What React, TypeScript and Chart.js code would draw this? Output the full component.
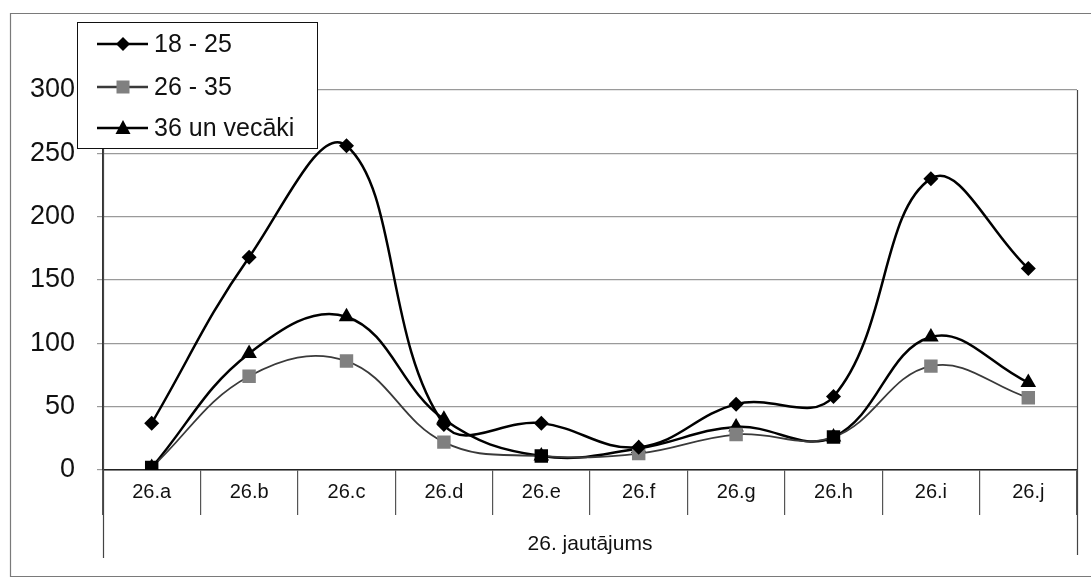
import React, { useEffect, useRef } from "react";
import { Chart, registerables } from "chart.js";

Chart.register(...registerables);

// Categories of question 26 and answer counts per age group
const categories = ["26.a", "26.b", "26.c", "26.d", "26.e", "26.f", "26.g", "26.h", "26.i", "26.j"];
const seriesNames = ["18 - 25", "26 - 35", "36 un vecāki"];
const age18to25 = [37, 168, 256, 36, 37, 18, 52, 58, 230, 159];
const age26to35 = [2, 74, 86, 22, 11, 13, 28, 26, 82, 57];
const age36plus = [2, 92, 121, 40, 11, 17, 34, 26, 105, 69];
const yTicks = [0, 50, 100, 150, 200, 250, 300];
const axisTitle = "26. jautājums";

const FONT = "'Liberation Sans', Arial, sans-serif";

// Squares at these indices are drawn black where the markers coincide
const darkSquareIdx = [0, 4, 7];

const framePlugin = {
  id: "frameAndLegend",
  afterDraw(chart: any) {
    const ctx = chart.ctx;
    const area = chart.chartArea;
    ctx.save();
    // outer frame
    ctx.strokeStyle = "#7a7a7a";
    ctx.lineWidth = 1.2;
    ctx.beginPath();
    ctx.moveTo(1091, 13.5);
    ctx.lineTo(10.5, 13.5);
    ctx.lineTo(10.5, 576.5);
    ctx.lineTo(1091, 576.5);
    ctx.stroke();

    // left and right lines of the category table
    ctx.strokeStyle = "#444";
    ctx.lineWidth = 1.2;
    ctx.beginPath();
    ctx.moveTo(Math.round(area.left) + 0.5, area.top);
    ctx.lineTo(Math.round(area.left) + 0.5, 558);
    ctx.moveTo(Math.round(area.right) + 0.5, area.top);
    ctx.lineTo(Math.round(area.right) + 0.5, 555);
    ctx.stroke();

    // legend box
    const bx = 77.5, by = 22.5, bw = 240, bh = 126;
    ctx.fillStyle = "#fff";
    ctx.fillRect(bx, by, bw, bh);
    ctx.strokeStyle = "#111";
    ctx.lineWidth = 1;
    ctx.strokeRect(bx, by, bw, bh);

    const rows = [44, 87, 128];
    chart.data.datasets.forEach((ds: any, i: number) => {
      const y = rows[i];
      ctx.strokeStyle = ds.borderColor;
      ctx.lineWidth = 2.5;
      ctx.beginPath();
      ctx.moveTo(97, y);
      ctx.lineTo(148, y);
      ctx.stroke();
      ctx.fillStyle = i === 1 ? "#808080" : "#000";
      ctx.beginPath();
      if (i === 0) {
        ctx.moveTo(123, y - 7);
        ctx.lineTo(130, y);
        ctx.lineTo(123, y + 7);
        ctx.lineTo(116, y);
      } else if (i === 1) {
        ctx.rect(116.5, y - 6.5, 13, 13);
      } else {
        ctx.moveTo(123, y - 8);
        ctx.lineTo(130.5, y + 6);
        ctx.lineTo(115.5, y + 6);
      }
      ctx.closePath();
      ctx.fill();
      ctx.fillStyle = "#111";
      ctx.font = `25px ${FONT}`;
      ctx.textBaseline = "middle";
      ctx.textAlign = "left";
      ctx.fillText(ds.label, 154, y + 1);
    });
    ctx.restore();
  },
};

export default function App() {
  const ref = useRef<HTMLCanvasElement>(null);

  useEffect(() => {
    document.body.style.margin = "0";
    const canvas = ref.current!;
    const chart = new Chart(canvas, {
      type: "line",
      data: {
        labels: categories,
        datasets: [
          {
            label: seriesNames[0],
            data: age18to25,
            borderColor: "#000",
            borderWidth: 2.5,
            backgroundColor: "#000",
            pointStyle: "rectRot",
            pointRadius: 7.5,
            pointBorderWidth: 0,
            tension: 0.4,
          },
          {
            label: seriesNames[1],
            data: age26to35,
            borderColor: "#3a3a3a",
            borderWidth: 1.8,
            pointBackgroundColor: age26to35.map((_, i) => (darkSquareIdx.includes(i) ? "#000" : "#808080")),
            pointStyle: "rect",
            pointRadius: 9.5,
            pointBorderWidth: 0,
            tension: 0.4,
          },
          {
            label: seriesNames[2],
            data: age36plus,
            borderColor: "#000",
            borderWidth: 2.5,
            backgroundColor: "#000",
            pointStyle: "triangle",
            pointRadius: 9,
            pointBorderWidth: 0,
            tension: 0.4,
          },
        ],
      },
      options: {
        animation: false,
        responsive: false,
        layout: { padding: { top: 90, right: 14, left: 0, bottom: 0 } },
        plugins: { legend: { display: false }, tooltip: { enabled: false } },
        scales: {
          x: {
            offset: true,
            grid: {
              offset: true,
              drawOnChartArea: false,
              drawTicks: true,
              tickLength: 45,
              color: "#555",
              lineWidth: 1.2,
            },
            border: { display: true, color: "#222", width: 1.5 },
            ticks: { padding: -35, color: "#111", font: { family: FONT, size: 20 } },
            title: {
              display: true,
              text: axisTitle,
              color: "#111",
              font: { family: FONT, size: 21 },
              padding: { top: 0, bottom: 21 },
            },
            afterFit(scale: any) {
              scale.height = 108;
            },
          },
          y: {
            min: 0,
            max: 300,
            afterBuildTicks(scale: any) {
              scale.ticks = yTicks.map((v) => ({ value: v }));
            },
            grid: { color: "#9a9a9a", lineWidth: 1.2, drawTicks: true, tickLength: 6 },
            border: { display: true, color: "#333", width: 1.2 },
            ticks: { padding: 22, color: "#111", font: { family: FONT, size: 27 } },
            afterFit(scale: any) {
              scale.width = 103;
            },
          },
        },
      },
      plugins: [framePlugin],
    });
    return () => chart.destroy();
  }, []);

  return (
    <div style={{ position: "fixed", left: 0, top: 0, width: 1091, height: 578, background: "#fff" }}>
      <canvas ref={ref} width={1091} height={578} />
    </div>
  );
}
